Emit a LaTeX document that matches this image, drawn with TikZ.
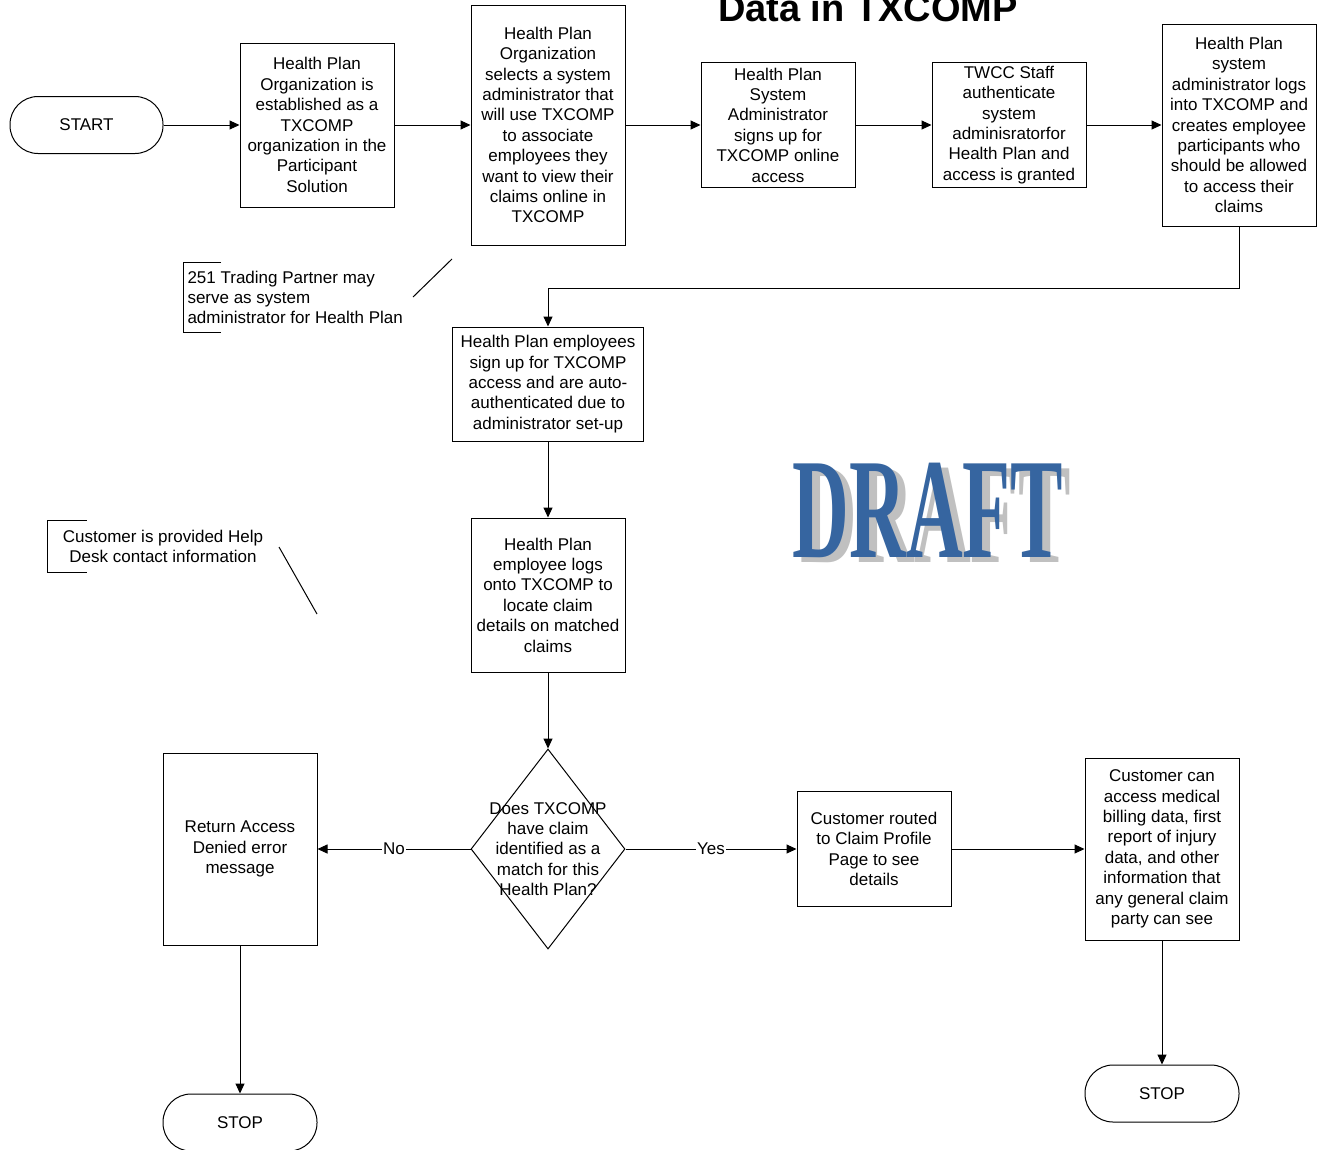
\documentclass[tikz,border=0pt]{standalone}
\usepackage{fontspec}
\setmainfont{Liberation Sans}
\newfontfamily\draftfont{Liberation Serif}
\usetikzlibrary{arrows.meta,shapes.geometric}

\definecolor{draftblue}{RGB}{54,101,160}
\definecolor{draftgray}{RGB}{192,192,192}

\begin{document}
\begin{tikzpicture}[
  x=1pt,y=-1pt,line width=1pt,
  font=\fontsize{17}{20.4}\selectfont,>={Triangle[length=10pt,width=9pt]},
  pbox/.style={draw,align=center,minimum width=154pt,inner sep=2pt},
  term/.style={draw,rounded corners=28pt,align=center,minimum width=154pt,
               minimum height=57pt,inner sep=2pt},
  decide/.style={draw,diamond,minimum width=154pt,minimum height=200pt,inner sep=0pt},
  note/.style={align=left,inner ysep=0pt},
  lbl/.style={fill=white,inner sep=1pt},
  ar/.style={->},
]
\useasboundingbox (0,0) rectangle (1321,1149);

% title (cut off at the top)
\node[font=\fontsize{38}{40}\selectfont\bfseries,anchor=base] (title) at (868,21) {Data in TXCOMP};

\def\yA{125}

% top row
\node[term,minimum width=153pt] (start) at (86.5,\yA) {START};
\node[pbox,minimum height=164pt] (b1) at (317,\yA) {Health Plan\\Organization is\\established as a\\TXCOMP\\organization in the\\Participant\\Solution};
\node[pbox,minimum height=240pt] (b2) at (548,\yA) {Health Plan\\Organization\\selects a system\\administrator that\\will use TXCOMP\\to associate\\employees they\\want to view their\\claims online in\\TXCOMP};
\node[pbox,minimum height=125pt] (b3) at (778,\yA) {Health Plan\\System\\Administrator\\signs up for\\TXCOMP online\\access};
\node[pbox,minimum height=125pt] (b4) at (1009,\yA) {TWCC Staff\\authenticate\\system\\adminisratorfor\\Health Plan and\\access is granted};
\node[pbox,minimum height=202pt] (b5) at (1239,\yA) {Health Plan\\system\\administrator logs\\into TXCOMP and\\creates employee\\participants who\\should be allowed\\to access their\\claims};

% middle column
\node[pbox,minimum width=191pt,minimum height=114pt] (b6) at (548,384) {Health Plan employees\\sign up for TXCOMP\\access and are auto-\\authenticated due to\\administrator set-up};
\node[pbox,minimum height=154pt] (b7) at (548,595) {Health Plan\\employee logs\\onto TXCOMP to\\locate claim\\details on matched\\claims};
\node[decide] (dec) at (548,849) {};
\node[align=center,inner sep=0pt] (dectext) at (548,849) {Does TXCOMP\\have claim\\identified as a\\match for this\\Health Plan?};

% no branch
\node[pbox,minimum height=192pt] (b8) at (240,849) {Return Access\\Denied error\\message};
\node[term] (stop1) at (240,1122.5) {STOP};

% yes branch
\node[pbox,minimum height=115pt] (b9) at (874,849) {Customer routed\\to Claim Profile\\Page to see\\details};
\node[pbox,minimum height=182pt] (b10) at (1162,849) {Customer can\\access medical\\billing data, first\\report of injury\\data, and other\\information that\\any general claim\\party can see};
\node[term] (stop2) at (1162,1093.5) {STOP};

% connectors
\draw[ar] (start) -- (b1);
\draw[ar] (b1) -- (b2);
\draw[ar] (b2) -- (b3);
\draw[ar] (b3) -- (b4);
\draw[ar] (b4) -- (b5);
\draw[ar] (b5.south) -- ++(0,62) -| (b6.north);
\draw[ar] (b6) -- (b7);
\draw[ar] (b7) -- (dec);
\draw[ar] (dec.west) -- node[lbl]{No} (b8.east);
\draw[ar] (b8) -- (stop1);
\draw[ar] (dec.east) -- node[lbl]{Yes} (b9.west);
\draw[ar] (b9) -- (b10);
\draw[ar] (b10) -- (stop2);

% annotations
\node[note,anchor=west,inner xsep=4pt,minimum height=69pt] (n1) at (183,297.5)
  {251 Trading Partner may\\serve as system\\administrator for Health Plan};
\draw ([xshift=38pt]n1.north west) -- (n1.north west) -- (n1.south west) -- ([xshift=38pt]n1.south west);
\coordinate (n1a) at (413,297);
\coordinate (n1b) at (452,259);
\draw (n1a) -- (n1b);

\node[note,align=center,inner xsep=0pt,minimum width=230pt,minimum height=51pt] (n2) at (163,546.5)
  {Customer is provided Help\\Desk contact information};
\draw ([xshift=39pt]n2.north west) -- (n2.north west) -- (n2.south west) -- ([xshift=39pt]n2.south west);
\coordinate (n2a) at (279,547);
\coordinate (n2b) at (317,614);
\draw (n2a) -- (n2b);

% watermark
\node[font=\draftfont\bfseries\fontsize{143}{143}\selectfont,text=draftgray,anchor=base,inner sep=0pt] (draftshadow) at (936,562) {\scalebox{0.55}[1]{DRAFT}};
\node[font=\draftfont\bfseries\fontsize{143}{143}\selectfont,text=draftblue,anchor=base,inner sep=0pt] (draft) at (928,557) {\scalebox{0.55}[1]{DRAFT}};
\end{tikzpicture}
\end{document}
